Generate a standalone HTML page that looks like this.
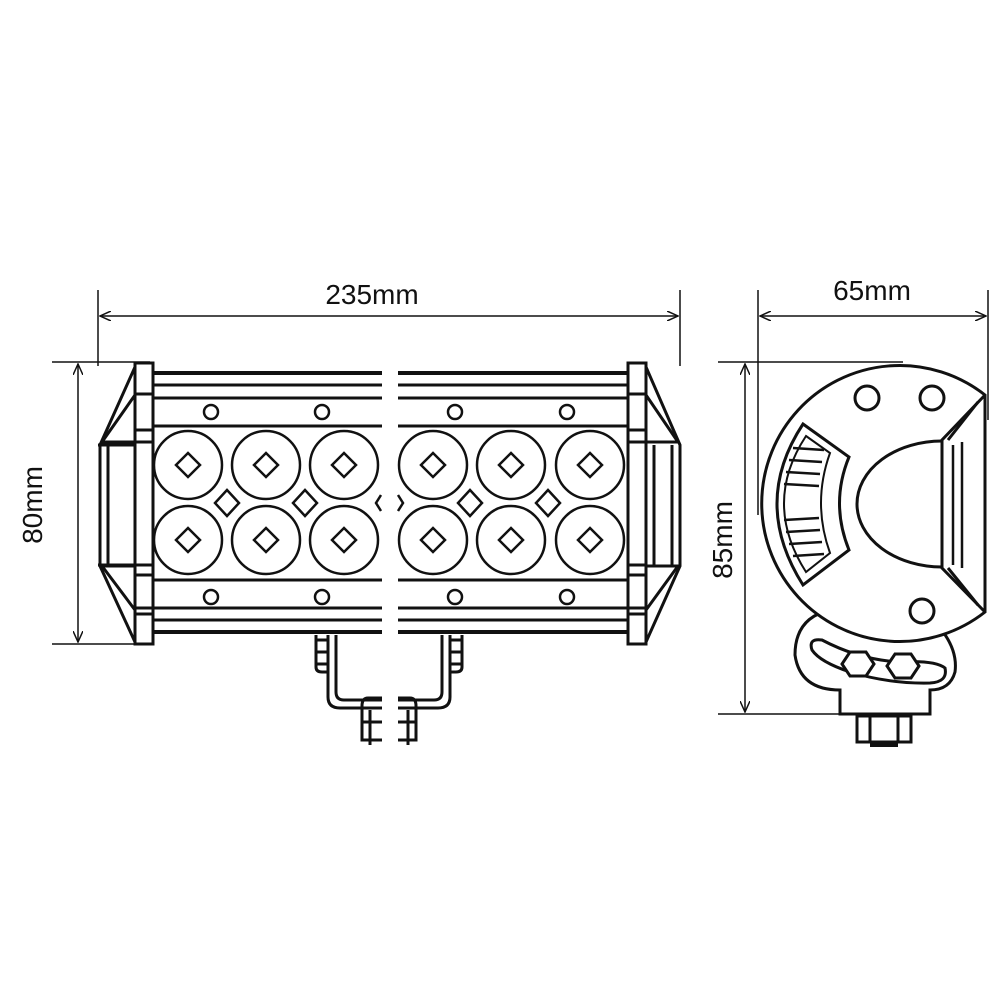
<!DOCTYPE html>
<html><head><style>body{margin:0;background:#fff}svg{display:block}text{font-family:"Liberation Sans",sans-serif;font-size:28px;fill:#111}</style></head>
<body>
<svg width="1000" height="1000" viewBox="0 0 1000 1000" xmlns="http://www.w3.org/2000/svg">
<defs>
<marker id="a" markerWidth="12" markerHeight="10" refX="11" refY="5" orient="auto-start-reverse" markerUnits="userSpaceOnUse"><path d="M0,0 L11,5 L0,10" fill="none" stroke="#111" stroke-width="1.5"/></marker>
</defs>
<g stroke="#111" stroke-width="1.5" fill="none">
<line x1="98" y1="290" x2="98" y2="366"/><line x1="680" y1="290" x2="680" y2="366"/>
<line x1="100" y1="316" x2="678" y2="316" marker-end="url(#a)" marker-start="url(#a)"/>
<line x1="52" y1="362" x2="150" y2="362"/><line x1="52" y1="644" x2="150" y2="644"/>
<line x1="78" y1="364" x2="78" y2="642" marker-end="url(#a)" marker-start="url(#a)"/>
<line x1="758" y1="290" x2="758" y2="515"/><line x1="988" y1="290" x2="988" y2="420"/>
<line x1="760" y1="316" x2="986" y2="316" marker-end="url(#a)" marker-start="url(#a)"/>
<line x1="718" y1="362" x2="903" y2="362"/><line x1="718" y1="714" x2="860" y2="714"/>
<line x1="745" y1="364" x2="745" y2="712" marker-end="url(#a)" marker-start="url(#a)"/>
</g>
<text x="372" y="304" text-anchor="middle">235mm</text>
<text x="872" y="300" text-anchor="middle">65mm</text>
<text transform="translate(42,505) rotate(-90)" text-anchor="middle">80mm</text>
<text transform="translate(732,540) rotate(-90)" text-anchor="middle">85mm</text>

<g stroke="#111" stroke-width="3" fill="none">
<line x1="153" y1="373" x2="628" y2="373" stroke-width="4"/>
<line x1="153" y1="385" x2="628" y2="385"/>
<line x1="153" y1="398" x2="628" y2="398"/>
<line x1="153" y1="426" x2="628" y2="426"/>
<line x1="153" y1="580" x2="628" y2="580"/>
<line x1="153" y1="608" x2="628" y2="608"/>
<line x1="153" y1="620" x2="628" y2="620"/>
<line x1="153" y1="632" x2="628" y2="632" stroke-width="4"/>
<rect x="382" y="360" width="16" height="290" fill="#fff" stroke="none"/>
<g stroke-width="2.5">
<circle cx="211" cy="412" r="7"/><circle cx="322" cy="412" r="7"/><circle cx="455" cy="412" r="7"/><circle cx="567" cy="412" r="7"/>
<circle cx="211" cy="597" r="7"/><circle cx="322" cy="597" r="7"/><circle cx="455" cy="597" r="7"/><circle cx="567" cy="597" r="7"/>
</g>
<g stroke-width="2.5">
<circle cx="188" cy="465" r="34"/><circle cx="266" cy="465" r="34"/><circle cx="344" cy="465" r="34"/>
<circle cx="433" cy="465" r="34"/><circle cx="511" cy="465" r="34"/><circle cx="590" cy="465" r="34"/>
<circle cx="188" cy="540" r="34"/><circle cx="266" cy="540" r="34"/><circle cx="344" cy="540" r="34"/>
<circle cx="433" cy="540" r="34"/><circle cx="511" cy="540" r="34"/><circle cx="590" cy="540" r="34"/>
<path d="M188,453 L200,465 L188,477 L176,465Z"/>
<path d="M266,453 L278,465 L266,477 L254,465Z"/><path d="M344,453 L356,465 L344,477 L332,465Z"/>
<path d="M433,453 L445,465 L433,477 L421,465Z"/><path d="M511,453 L523,465 L511,477 L499,465Z"/><path d="M590,453 L602,465 L590,477 L578,465Z"/>
<path d="M188,528 L200,540 L188,552 L176,540Z"/><path d="M266,528 L278,540 L266,552 L254,540Z"/><path d="M344,528 L356,540 L344,552 L332,540Z"/>
<path d="M433,528 L445,540 L433,552 L421,540Z"/><path d="M511,528 L523,540 L511,552 L499,540Z"/><path d="M590,528 L602,540 L590,552 L578,540Z"/>
<path d="M227,490 L239,503 L227,516 L215,503Z"/><path d="M305,490 L317,503 L305,516 L293,503Z"/>
<path d="M470,490 L482,503 L470,516 L458,503Z"/><path d="M548,490 L560,503 L548,516 L536,503Z"/>
<path d="M381,495 L376,503 L381,511"/><path d="M398,495 L403,503 L398,511"/>
</g>
<rect x="135" y="363" width="18" height="281"/>
<line x1="135" y1="394" x2="153" y2="394"/><line x1="135" y1="430" x2="153" y2="430"/><line x1="135" y1="442" x2="153" y2="442"/>
<line x1="135" y1="565" x2="153" y2="565"/><line x1="135" y1="575" x2="153" y2="575"/><line x1="135" y1="608" x2="153" y2="608"/><line x1="135" y1="614" x2="153" y2="614"/>
<path d="M135,367 L100,445 L100,566 L135,642"/>
<path d="M135,395 L102,442 L135,442"/><path d="M135,610 L102,566 L135,566"/>
<line x1="108" y1="445" x2="108" y2="565"/>
<line x1="98" y1="445" x2="135" y2="445"/><line x1="98" y1="565" x2="135" y2="565"/>
<rect x="628" y="363" width="18" height="281"/>
<line x1="628" y1="394" x2="646" y2="394"/><line x1="628" y1="430" x2="646" y2="430"/><line x1="628" y1="442" x2="646" y2="442"/>
<line x1="628" y1="565" x2="646" y2="565"/><line x1="628" y1="575" x2="646" y2="575"/><line x1="628" y1="608" x2="646" y2="608"/><line x1="628" y1="614" x2="646" y2="614"/>
<path d="M646,367 L680,445 L680,566 L646,642"/>
<path d="M646,395 L678,442 L646,442"/><path d="M646,610 L678,566 L646,566"/>
<line x1="672" y1="445" x2="672" y2="565"/><line x1="654" y1="445" x2="654" y2="565"/>
<path d="M316,635 L316,667 Q316,672 322,672 L329,672"/>
<rect x="316" y="640" width="12" height="12"/><rect x="316" y="652" width="12" height="12"/>
<path d="M328,635 L328,697 Q328,708 340,708 L382,708"/>
<path d="M336,635 L336,692 Q336,700 344,700 L382,700"/>
<path d="M462,635 L462,667 Q462,672 456,672 L449,672"/>
<rect x="450" y="640" width="12" height="12"/><rect x="450" y="652" width="12" height="12"/>
<path d="M450,635 L450,697 Q450,708 438,708 L398,708"/>
<path d="M442,635 L442,692 Q442,700 434,700 L398,700"/>
<path d="M382,698 L368,698 Q362,698 362,706 L362,740 L382,740"/>
<line x1="370" y1="710" x2="370" y2="745"/><line x1="362" y1="722" x2="382" y2="722"/>
<path d="M398,698 L410,698 Q416,698 416,706 L416,740 L398,740"/>
<line x1="408" y1="710" x2="408" y2="745"/><line x1="398" y1="722" x2="416" y2="722"/>
</g>

<g stroke="#111" stroke-width="3" fill="none">
<path d="M840,714 L840,690 Q800,690 795,655 Q795,618 830,610 L940,628 Q958,650 955,672 Q950,690 930,690 L930,714 Z"/>
<path d="M812,650 Q808,638 822,640 Q860,660 900,662 Q935,660 945,668 Q948,682 930,683 Q890,684 850,672 Q820,662 812,650Z"/>
<path d="M850,652 L866,652 L874,664 L866,676 L850,676 L842,664Z" fill="#fff"/>
<path d="M895,654 L911,654 L919,666 L911,678 L895,678 L887,666Z" fill="#fff"/>
<rect x="857" y="716" width="54" height="26"/><line x1="870" y1="716" x2="870" y2="742"/><line x1="898" y1="716" x2="898" y2="742"/>
<line x1="870" y1="745" x2="898" y2="745" stroke-width="4"/>
<path d="M985,395 A138,138 0 1 0 985,612 Z" fill="#fff"/>
<path d="M985,395 L942,440 L942,568 L985,612"/>
<path d="M978,402 L948,440"/><path d="M978,605 L948,568"/>
<line x1="953" y1="445" x2="953" y2="565" stroke-width="2.5"/><line x1="962" y1="442" x2="962" y2="568" stroke-width="2.5"/>
<path d="M942,441 A85,63 0 0 0 942,567"/>
<circle cx="867" cy="398" r="12"/><circle cx="932" cy="398" r="12"/><circle cx="922" cy="611" r="12"/>
<path d="M803,424 L849,457 Q830,503 849,550 L803,585 Q751,503 803,424Z"/>
<path d="M806,436 L830,453 Q812,503 830,553 L806,572 Q762,503 806,436Z" stroke-width="2"/>
<g stroke-width="2.5">
<line x1="793" y1="448" x2="824" y2="450"/><line x1="789" y1="460" x2="822" y2="462"/><line x1="786" y1="472" x2="820" y2="474"/><line x1="784" y1="484" x2="819" y2="486"/>
<line x1="784" y1="520" x2="819" y2="518"/><line x1="786" y1="532" x2="820" y2="530"/><line x1="789" y1="544" x2="822" y2="542"/><line x1="793" y1="556" x2="824" y2="554"/>
</g>
</g>
</svg>
</body></html>
